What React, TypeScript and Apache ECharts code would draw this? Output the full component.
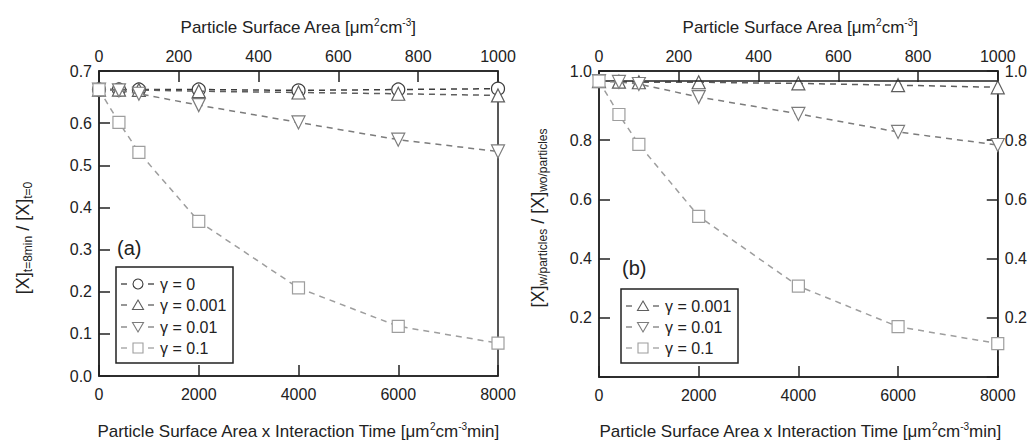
import React, { useEffect, useRef } from "react";
import * as echarts from "echarts";

const xTime = [0, 400, 800, 2000, 4000, 6000, 8000];
const gammaLabels = ["γ = 0", "γ = 0.001", "γ = 0.01", "γ = 0.1"];
const leftG0 = [0.68, 0.68, 0.68, 0.68, 0.678, 0.68, 0.682];
const leftG001 = [0.68, 0.68, 0.679, 0.676, 0.673, 0.67, 0.666];
const leftG01 = [0.68, 0.678, 0.67, 0.643, 0.602, 0.561, 0.533];
const leftG1 = [0.68, 0.602, 0.531, 0.367, 0.209, 0.118, 0.078];
const rightG001 = [1.0, 0.998, 0.996, 0.996, 0.992, 0.986, 0.979];
const rightG01 = [1.0, 0.997, 0.99, 0.946, 0.889, 0.828, 0.784];
const rightG1 = [1.0, 0.887, 0.786, 0.543, 0.307, 0.17, 0.113];

const topTitle = "Particle Surface Area [μm{sup|2}cm{sup|-3}]";
const bottomTitle = "Particle Surface Area x Interaction Time [μm{sup|2}cm{sup|-3}min]";
const leftYTitle = "[X]{sub|t=8min} / [X]{sub|t=0}";
const rightYTitle = "[X]{sub|w/particles} / [X]{sub|wo/particles}";

const colors = ["#3c3c3c", "#5e5e5e", "#7c7c7c", "#9e9e9e"];
const symbols = ["circle", "triangle", "triangle", "rect"];
const rotations = [0, 0, 180, 0];
const FONT = "Liberation Sans, Arial, sans-serif";
const INK = "#222";

const richSup = {
  sup: { fontSize: 10, padding: [0, 0, 9, 0], fontFamily: FONT, fill: INK, color: INK },
  sub: { fontSize: 12, padding: [10, 0, 0, 0], fontFamily: FONT, fill: INK, color: INK },
};

function mkSeries(idx: number, ys: number[], xAxisIndex: number, yAxisIndex: number, extra: any = {}) {
  return {
    type: "line",
    name: gammaLabels[idx],
    xAxisIndex,
    yAxisIndex,
    data: xTime.map((x, i) => [x, ys[i]]),
    symbol: symbols[idx],
    symbolSize: idx === 3 ? 12 : 13,
    symbolRotate: rotations[idx],
    showAllSymbol: true,
    lineStyle: { color: colors[idx], width: 1.5, type: [6, 5] },
    itemStyle: { color: "#fff", borderColor: colors[idx], borderWidth: 1.2 },
    z: 3 + idx,
    ...extra,
  };
}

const tickStyle = { show: true, inside: true, length: 11, lineStyle: { color: INK, width: 1.5 } };
const lineStyleAxis = { show: true, onZero: false, lineStyle: { color: INK, width: 1.5 } };

function xAxes(gridIndex: number) {
  const common = {
    gridIndex,
    type: "value",
    axisLine: lineStyleAxis,
    axisTick: tickStyle,
    splitLine: { show: false },
    axisLabel: { color: INK, fontSize: 16, fontFamily: FONT, margin: 10, formatter: (v: number) => String(v) },
  };
  return [
    { ...common, position: "bottom", min: 0, max: 8000, interval: 2000 },
    { ...common, position: "top", min: 0, max: 1000, interval: 200, axisLabel: { ...common.axisLabel, margin: 7 } },
  ];
}

function yAxis(gridIndex: number, position: string, max: number, interval: number, hideZero: boolean) {
  return {
    gridIndex,
    type: "value",
    position,
    min: 0,
    max,
    interval,
    axisLine: lineStyleAxis,
    axisTick: tickStyle,
    splitLine: { show: false },
    axisLabel: {
      color: INK,
      fontSize: 16,
      fontFamily: FONT,
      margin: 7,
      showMaxLabel: true,
      formatter: (v: number) => (hideZero && v === 0 ? "" : v.toFixed(1)),
    },
  };
}

function legendGraphic(x: number, y: number, w: number, h: number, rows: number[], rowYs: number[]) {
  const els: any[] = [
    { type: "rect", shape: { x, y, width: w, height: h }, style: { fill: "#fff", stroke: INK, lineWidth: 1.5 }, z: 50 },
  ];
  rows.forEach((idx, r) => {
    const cy = rowYs[r];
    const c = colors[idx];
    els.push({ type: "line", shape: { x1: x + 5, y1: cy, x2: x + 11, y2: cy }, style: { stroke: c, lineWidth: 1.3 }, z: 51 });
    els.push({ type: "line", shape: { x1: x + 32, y1: cy, x2: x + 38, y2: cy }, style: { stroke: c, lineWidth: 1.3 }, z: 51 });
    const sx = x + 22;
    const st = { fill: "#fff", stroke: c, lineWidth: 1.1 };
    if (idx === 0) els.push({ type: "circle", shape: { cx: sx, cy, r: 5 }, style: st, z: 51 });
    else if (idx === 1)
      els.push({ type: "polygon", shape: { points: [[sx, cy - 5], [sx + 5.5, cy + 4.5], [sx - 5.5, cy + 4.5]] }, style: st, z: 51 });
    else if (idx === 2)
      els.push({ type: "polygon", shape: { points: [[sx, cy + 5], [sx + 5.5, cy - 4.5], [sx - 5.5, cy - 4.5]] }, style: st, z: 51 });
    else els.push({ type: "rect", shape: { x: sx - 5, y: cy - 5, width: 10, height: 10 }, style: st, z: 51 });
    els.push({
      type: "text",
      x: x + 44,
      y: cy,
      style: { text: gammaLabels[idx], fill: INK, fontSize: 16, fontFamily: FONT, verticalAlign: "middle", align: "left" },
      z: 51,
    });
  });
  return els;
}

function titleText(x: number, y: number, text: string, rotate = false, size = 17) {
  return {
    type: "text",
    x,
    y,
    rotation: rotate ? Math.PI / 2 : 0,
    style: {
      text,
      fill: INK,
      fontSize: size,
      fontFamily: FONT,
      align: "center",
      verticalAlign: "middle",
      rich: richSup,
    },
    z: 40,
  };
}

export default function App() {
  const ref = useRef<HTMLDivElement>(null);
  useEffect(() => {
    if (!ref.current) return;
    const chart = echarts.init(ref.current, undefined, { renderer: "svg" });
    const option: any = {
      animation: false,
      backgroundColor: "#fff",
      textStyle: { fontFamily: FONT },
      grid: [
        { left: 99, right: 532, top: 71, bottom: 65, show: true, borderColor: INK, borderWidth: 1.5, backgroundColor: "transparent" },
        { left: 599, right: 30, top: 71, bottom: 64, show: true, borderColor: INK, borderWidth: 1.5, backgroundColor: "transparent" },
      ],
      xAxis: [...xAxes(0), ...xAxes(1)],
      yAxis: [yAxis(0, "left", 0.724, 0.1, false), yAxis(1, "left", 1.034, 0.2, true), yAxis(1, "right", 1.034, 0.2, true)],
      series: [
        mkSeries(0, leftG0, 0, 0),
        mkSeries(1, leftG001, 0, 0),
        mkSeries(2, leftG01, 0, 0),
        mkSeries(3, leftG1, 0, 0),
        mkSeries(1, rightG001, 2, 1, {
          markLine: {
            silent: true,
            symbol: "none",
            label: { show: false },
            lineStyle: { color: INK, width: 1.5, type: "solid" },
            data: [{ yAxis: 1.0 }],
          },
        }),
        mkSeries(2, rightG01, 2, 1),
        mkSeries(3, rightG1, 2, 1),
      ],
      graphic: [
        titleText(298, 27, topTitle),
        titleText(800, 27, topTitle),
        titleText(298, 431, bottomTitle),
        titleText(800, 431, bottomTitle),
        titleText(23, 238, leftYTitle, true, 18),
        titleText(538, 218, rightYTitle, true, 18),
        { type: "text", x: 117, y: 248, style: { text: "(a)", fill: INK, fontSize: 20, fontFamily: FONT, verticalAlign: "middle" }, z: 40 },
        { type: "text", x: 622, y: 268, style: { text: "(b)", fill: INK, fontSize: 20, fontFamily: FONT, verticalAlign: "middle" }, z: 40 },
        ...legendGraphic(116, 267, 117, 96, [0, 1, 2, 3], [284, 305, 327, 348]),
        ...legendGraphic(621, 289, 117, 74, [1, 2, 3], [306, 327, 348]),
      ],
    };
    chart.setOption(option);
    return () => chart.dispose();
  }, []);
  return <div ref={ref} style={{ position: "absolute", left: 0, top: 0, width: 1030, height: 441 }} />;
}
